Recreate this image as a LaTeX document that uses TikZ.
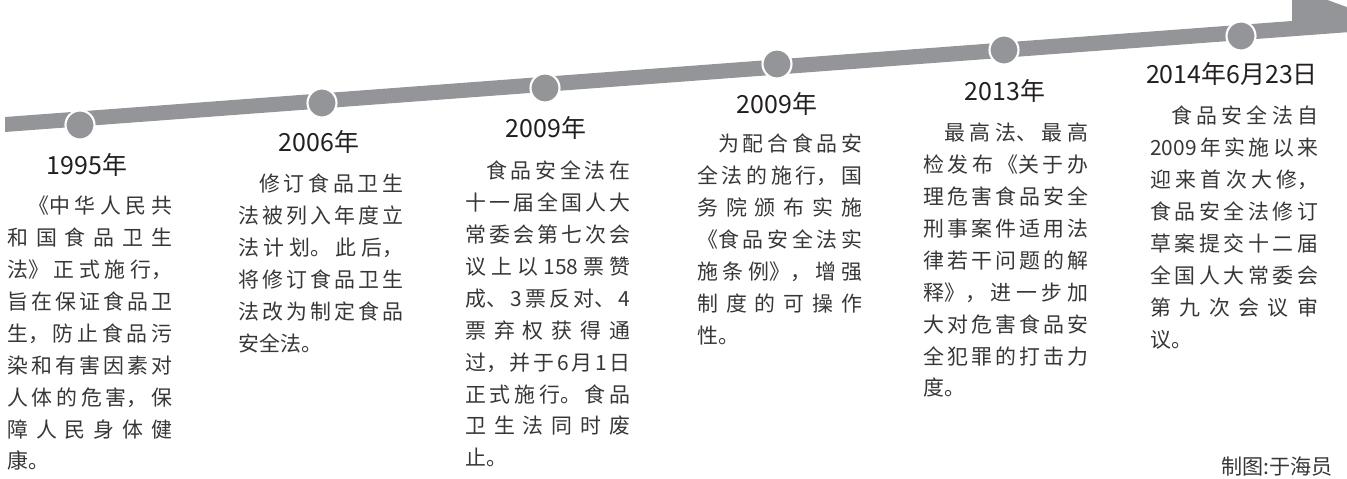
\documentclass[tikz,border=0pt]{standalone}
\usepackage{fontspec}
\usepackage{tikz}
\newfontfamily\cjk{Noto Sans CJK SC}
\XeTeXlinebreaklocale "zh"
\XeTeXlinebreakskip=0pt plus 1fil
\definecolor{mygray}{RGB}{148,149,153}
\definecolor{mydark}{RGB}{35,31,32}
\definecolor{myink}{RGB}{55,55,55}
\newcommand\myyear[3]{%
  \node[myyear] (y#1) at (#2) {#3};
}
\newcommand\mybody[4][3.3]{%
  \node[mybody,text width=#1cm] (t#2) at (#3) {\parindent=0pt\leftskip=0pt\rightskip=0pt\relax #4\hfill\null};
}

\begin{document}
\begin{tikzpicture}[
x=0.02cm, y=-0.02cm,
mydot/.style={
  circle,
  fill=mygray,
  draw=white,
  line width=1.2pt,
  minimum size=0.58cm,
  inner sep=0pt},
myyear/.style={
  anchor=base,
  inner sep=0pt,
  text=mydark,
  font=\cjk\fontsize{14.2}{16}\selectfont},
mybody/.style={
  anchor=base west,
  inner sep=0pt,
  text=myink,
  font=\cjk\fontsize{11.9}{18.14}\selectfont}
]
\useasboundingbox (0,0) rectangle (1347,479);
\clip (0,0) rectangle (1347,479);
% band and arrow head
\fill[mygray] (5,117) -- (1292,21) -- (1292,-13) -- (1404,28) -- (5,132) -- cycle;
% dots
\node[mydot] (d1995) at (80,125) {};
\node[mydot] (d2006) at (322,103) {};
\node[mydot] (d2009a) at (545,88) {};
\node[mydot] (d2009b) at (777,64) {};
\node[mydot] (d2013) at (1004,50) {};
\node[mydot] (d2014) at (1241,36) {};
% years
\myyear{1995}{87,175}{1995年}
\myyear{2006}{319,152}{2006年}
\myyear{2009a}{546,137.5}{2009年}
\myyear{2009b}{777,114}{2009年}
\myyear{2013}{1005,101}{2013年}
\myyear{2014}{1232,84}{2014年6月23日}
% texts
\mybody{1995}{7,214}{\hspace*{1em}《中华人民共\linebreak
和国食品卫生\linebreak
法》正式施行，\linebreak
旨在保证食品卫\linebreak
生，防止食品污\linebreak
染和有害因素对\linebreak
人体的危害，保\linebreak
障人民身体健\linebreak
康。}
\mybody{2006}{238,192}{\hspace*{1em}修订食品卫生\linebreak
法被列入年度立\linebreak
法计划。此后，\linebreak
将修订食品卫生\linebreak
法改为制定食品\linebreak
安全法。}
\mybody{2009a}{465,179}{\hspace*{1em}食品安全法在\linebreak
十一届全国人大\linebreak
常委会第七次会\linebreak
议上以158票赞\linebreak
成、3票反对、4\linebreak
票弃权获得通\linebreak
过，并于6月1日\linebreak
正式施行。食品\linebreak
卫生法同时废\linebreak
止。}
\mybody{2009b}{697,152}{\hspace*{1em}为配合食品安\linebreak
全法的施行，国\linebreak
务院颁布实施\linebreak
《食品安全法实\linebreak
施条例》，增强\linebreak
制度的可操作\linebreak
性。}
\mybody{2013}{923,141}{\hspace*{1em}最高法、最高\linebreak
检发布《关于办\linebreak
理危害食品安全\linebreak
刑事案件适用法\linebreak
律若干问题的解\linebreak
释》，进一步加\linebreak
大对危害食品安\linebreak
全犯罪的打击力\linebreak
度。}
\mybody[3.36]{2014}{1150,124}{\hspace*{1em}食品安全法自\linebreak
2009年实施以来\linebreak
迎来首次大修，\linebreak
食品安全法修订\linebreak
草案提交十二届\linebreak
全国人大常委会\linebreak
第九次会议审\linebreak
议。}
\node[anchor=base east,inner sep=0pt,text=myink,font=\cjk\fontsize{12}{14}\selectfont] (credit) at (1333,475) {制图:于海员};
\end{tikzpicture}
\end{document}
